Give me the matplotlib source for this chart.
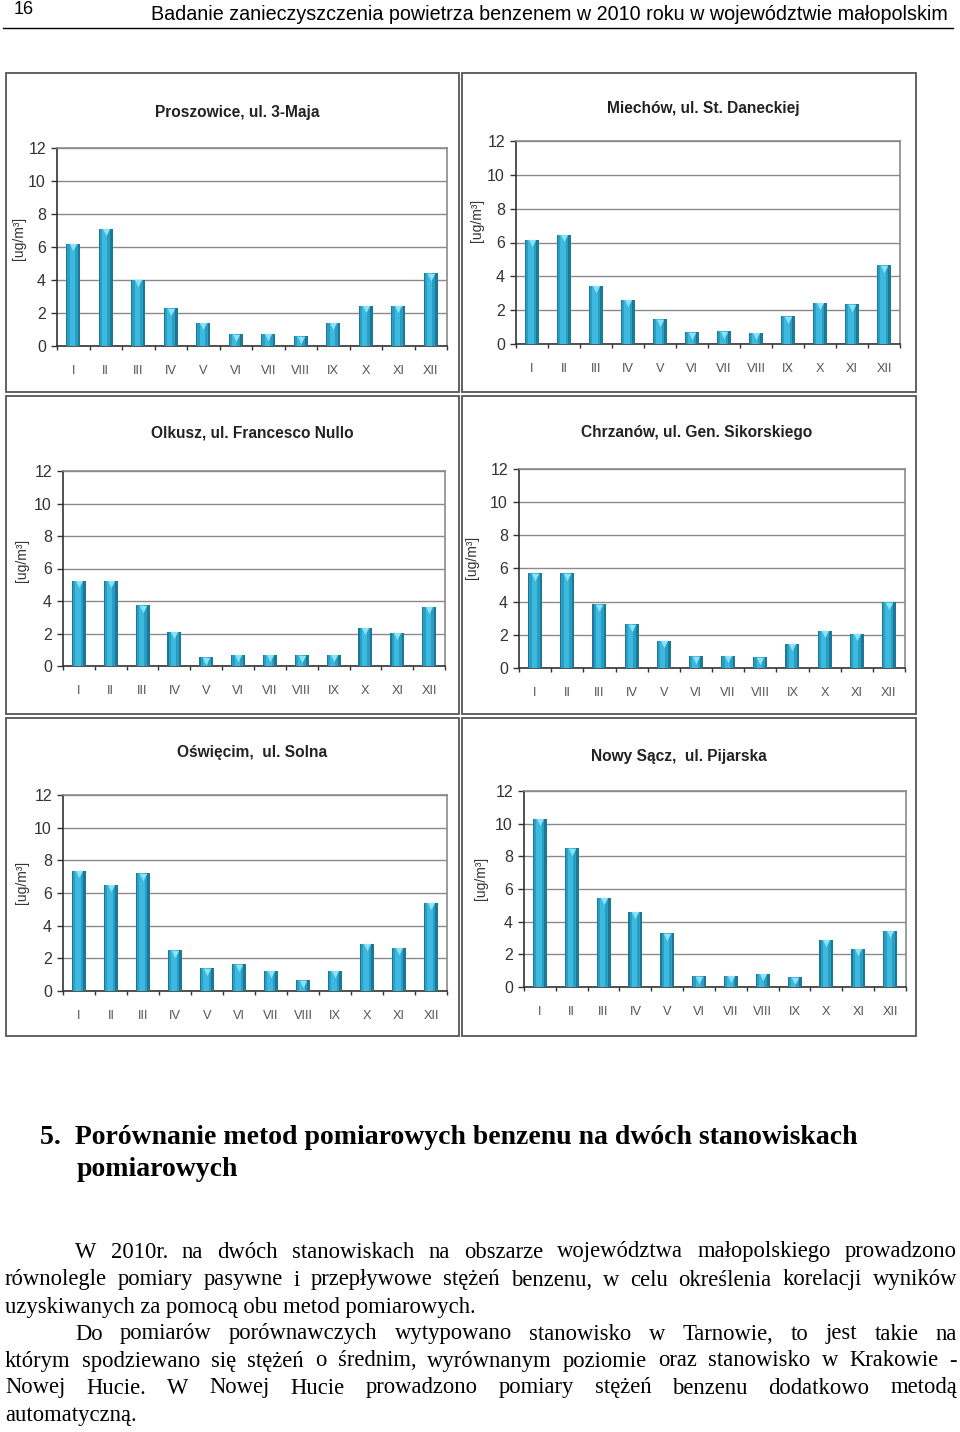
import numpy as np
import matplotlib.pyplot as plt
from matplotlib.patches import Rectangle
from matplotlib.lines import Line2D
import matplotlib.transforms as mtransforms

plt.rcParams['font.family'] = ['Liberation Sans', 'DejaVu Sans']

W, H = 960, 1432

# Dane - średnie miesięczne stężenia benzenu [ug/m3]
miesiace = ['I', 'II', 'III', 'IV', 'V', 'VI', 'VII', 'VIII', 'IX', 'X', 'XI', 'XII']

proszowice = [6.2, 7.1, 4.0, 2.3, 1.4, 0.7, 0.75, 0.6, 1.4, 2.45, 2.45, 4.4]
miechow = [6.15, 6.45, 3.45, 2.6, 1.45, 0.7, 0.75, 0.65, 1.65, 2.45, 2.35, 4.65]
olkusz = [5.25, 5.25, 3.75, 2.1, 0.55, 0.7, 0.7, 0.65, 0.7, 2.35, 2.05, 3.65]
chrzanow = [5.7, 5.7, 3.85, 2.65, 1.65, 0.7, 0.75, 0.65, 1.45, 2.25, 2.05, 3.95]
oswiecim = [7.35, 6.5, 7.2, 2.5, 1.4, 1.65, 1.25, 0.65, 1.25, 2.9, 2.65, 5.4]
nowy_sacz = [10.3, 8.5, 5.45, 4.6, 3.3, 0.65, 0.7, 0.8, 0.6, 2.9, 2.35, 3.45]

tytuly = ['Proszowice, ul. 3-Maja', 'Miechów, ul. St. Daneckiej',
          'Olkusz, ul. Francesco Nullo', 'Chrzanów, ul. Gen. Sikorskiego',
          'Oświęcim,  ul. Solna', 'Nowy Sącz,  ul. Pijarska']
serie = [proszowice, miechow, olkusz, chrzanow, oswiecim, nowy_sacz]

# układ paneli w pikselach: ramka, obszar wykresu, tytuł, opis osi y
ramki = [(6, 73, 459, 392), (462, 73, 916, 392),
         (6, 396, 459, 714), (462, 396, 916, 714),
         (6, 718, 459, 1036), (462, 718, 916, 1036)]
obszary = [(57, 148, 447, 346), (516, 141, 900, 344),
           (63, 471, 445, 666), (519, 469, 905, 668),
           (63, 795, 447, 991), (524, 791, 906, 987)]
poz_tytul = [(237, 113), (703, 109), (252, 433), (697, 432), (252, 753), (679, 757)]
poz_ylab = [(19, 238), (477, 220), (22, 560), (472, 557), (22, 882), (481, 878)]


def fx(x):
    return x / W


def fy(y):
    return 1 - y / H


fig = plt.figure(figsize=(9.6, 14.32), dpi=100)

# nagłówek strony
fig.text(fx(14), fy(9), '16', fontsize=13, va='center', ha='left')
fig.text(fx(948), fy(14), 'Badanie zanieczyszczenia powietrza benzenem w 2010 roku w województwie małopolskim',
         fontsize=14.2, va='center', ha='right')
fig.add_artist(Line2D([fx(3), fx(953)], [fy(28), fy(28)], transform=fig.transFigure, color='k', lw=1))

x = np.arange(len(miesiace))
for i in range(6):
    x0, y0, x1, y1 = ramki[i]
    fig.add_artist(Rectangle((fx(x0), fy(y1)), (x1 - x0) / W, (y1 - y0) / H,
                             transform=fig.transFigure, fill=False, ec='#555555', lw=1.3))
    l, t, r, b = obszary[i]
    ax = fig.add_axes([fx(l), fy(b), (r - l) / W, (b - t) / H])
    v = serie[i]
    ax.bar(x, v, width=0.44, color='#1c7895', zorder=3)
    ax.bar(x - 0.02, v, width=0.32, color='#2a9ec2', zorder=3)
    ax.bar(x - 0.03, v, width=0.16, color='#3cb9de', zorder=3)
    off = mtransforms.offset_copy(ax.transData, fig=fig, x=0, y=-2.5, units='points')
    ax.scatter(x, v, marker='v', s=28, color='#8be3f7', zorder=4, transform=off, linewidths=0)

    ax.set_xlim(-0.5, 11.5)
    ax.set_ylim(0, 12)
    ax.set_yticks(range(0, 13, 2))
    ax.yaxis.grid(True, color='#8a8a8a', lw=1)
    ax.set_axisbelow(True)
    for s in ['left', 'bottom']:
        ax.spines[s].set_color('#333333')
        ax.spines[s].set_linewidth(1.2)
    for s in ['top', 'right']:
        ax.spines[s].set_color('#8a8a8a')
        ax.spines[s].set_linewidth(1.2)
    ax.tick_params(axis='y', length=4, width=1, color='#333333', labelsize=11.5,
                   labelcolor='#333333', pad=4)
    ax.set_xticks(x)
    ax.set_xticklabels(miesiace)
    ax.set_xticks(np.arange(-0.5, 12, 1), minor=True)
    ax.tick_params(axis='x', which='major', length=0, pad=14, labelsize=9.2, labelcolor='#555555')
    ax.tick_params(axis='x', which='minor', length=3, width=1, color='#333333')

    tx, ty = poz_tytul[i]
    fig.text(fx(tx), fy(ty), tytuly[i], fontsize=11.2, fontweight='bold', ha='center', va='center',
             color='#222222')
    lx, lyy = poz_ylab[i]
    fig.text(fx(lx), fy(lyy), '[ug/m³]', fontsize=10, rotation=90, ha='center', va='center', color='#333333')

# tekst pod wykresami
r = fig.canvas.get_renderer()


def wyjustuj(linia, x0, x1, y, **kw):
    slowa = linia.split()
    arts = [fig.text(0, fy(y), s, va='center', ha='left', **kw) for s in slowa]
    szer = [a.get_window_extent(r).width for a in arts]
    odstep = (x1 - x0 - sum(szer)) / (len(slowa) - 1)
    pos = x0
    for a, w in zip(arts, szer):
        a.set_x(fx(pos))
        pos += w + odstep


serif = dict(family='Liberation Serif', fontsize=20, fontweight='bold')
fig.text(fx(40), fy(1137), '5.  Porównanie metod pomiarowych benzenu na dwóch stanowiskach', va='center', **serif)
fig.text(fx(77), fy(1169), 'pomiarowych', va='center', **serif)

tekst = dict(family='Liberation Serif', fontsize=16.3)
wyjustuj('W 2010r. na dwóch stanowiskach na obszarze województwa małopolskiego prowadzono', 75, 957, 1252, **tekst)
wyjustuj('równolegle pomiary pasywne i przepływowe stężeń benzenu, w celu określenia korelacji  wyników', 5, 957, 1280, **tekst)
fig.text(fx(5), fy(1307), 'uzyskiwanych za pomocą obu metod pomiarowych.', va='center', **tekst)
wyjustuj('Do pomiarów porównawczych wytypowano stanowisko w Tarnowie,  to jest takie na', 75, 957, 1334, **tekst)
wyjustuj('którym spodziewano się stężeń o średnim, wyrównanym poziomie oraz stanowisko w Krakowie -', 5, 957, 1361, **tekst)
wyjustuj('Nowej Hucie. W Nowej Hucie prowadzono pomiary stężeń benzenu dodatkowo metodą', 5, 957, 1388, **tekst)
fig.text(fx(5), fy(1415), 'automatyczną.', va='center', **tekst)

fig.savefig('out.png', dpi=100)
